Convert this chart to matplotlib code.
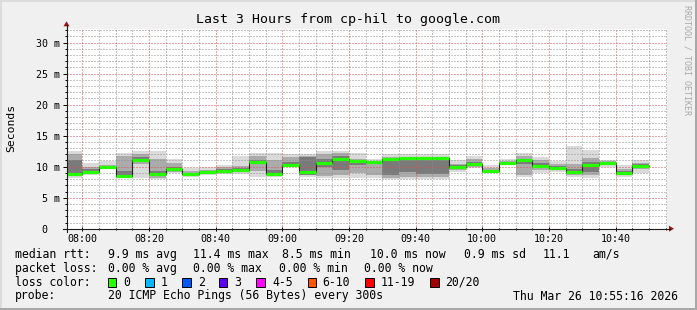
import numpy as np
import matplotlib
matplotlib.use("Agg")
import matplotlib.pyplot as plt
from matplotlib.patches import Rectangle, Polygon
from matplotlib.lines import Line2D

W, H = 697, 310

# ---------------- data ----------------
title = "Last 3 Hours from cp-hil to google.com"
# bin start times in minutes after midnight (07:55 ... 10:45), 5-minute steps
bin_start = [475, 480, 485, 490, 495, 500, 505, 510, 515, 520, 525, 530, 535, 540,
             545, 550, 555, 560, 565, 570, 575, 580, 585, 590, 595, 600, 605, 610,
             615, 620, 625, 630, 635, 640, 645]
bin_end = 650
view_start = 475 + 16 / 60   # 07:55:16
view_end = 655 + 16 / 60     # 10:55:16

median = [8.9, 9.1, 10.0, 8.5, 11.0, 8.8, 9.6, 8.9, 9.1, 9.35, 9.45, 10.7, 8.9, 10.35,
          9.2, 10.65, 11.3, 10.9, 10.7, 11.3, 11.45, 11.45, 11.35, 10.0, 10.5, 9.35,
          10.65, 11.0, 10.15, 9.85, 9.1, 10.35, 10.65, 9.05, 10.1]
outer_hi = [12.6, 10.6, 10.9, 12.2, 12.6, 12.6, 11.3, 9.8, 10.0, 10.2, 11.7, 12.2, 12.2, 12.0,
            12.0, 12.6, 12.6, 12.2, 11.3, 12.0, 12.0, 12.0, 12.0, 11.0, 11.8, 10.3, 11.2, 12.2,
            11.5, 10.9, 13.3, 12.7, 11.1, 10.3, 11.1]
outer_lo = [8.2, 8.6, 9.7, 8.3, 8.2, 8.0, 9.0, 8.4, 8.6, 8.8, 8.9, 8.4, 8.4, 10.0,
            8.4, 8.1, 8.1, 8.1, 8.1, 8.0, 8.0, 8.0, 8.0, 9.1, 9.8, 9.0, 10.2, 8.4,
            9.0, 9.2, 8.4, 8.2, 10.0, 8.4, 9.0]
mid_hi = [12.1, 10.0, 10.3, 11.7, 12.1, 11.3, 10.6, 9.3, 9.5, 9.9, 10.1, 11.7, 11.0, 11.5,
          11.8, 12.0, 12.2, 11.2, 10.9, 11.6, 11.6, 11.5, 11.6, 10.5, 11.2, 9.8, 10.9, 11.7,
          11.0, 10.4, 10.5, 11.4, 10.9, 9.7, 10.6]
mid_lo = [8.5, 8.8, 9.8, 8.5, 10.5, 8.2, 9.2, 8.6, 8.8, 9.0, 9.1, 9.3, 8.6, 10.2,
          8.6, 8.5, 8.6, 9.0, 8.6, 8.2, 8.3, 8.3, 8.3, 9.4, 10.0, 9.1, 10.4, 8.7,
          9.4, 9.5, 8.6, 8.7, 10.2, 8.6, 9.6]
core_hi = [11.1, 9.6, 10.1, 9.3, 11.6, 9.3, 10.0, 9.0, 9.3, 9.6, 9.8, 11.0, 9.5, 10.8,
           11.6, 11.3, 11.7, 11.0, 10.9, 11.1, 11.4, 11.4, 11.3, 10.2, 10.7, 9.5, 10.7, 11.3,
           10.6, 10.1, 9.6, 10.8, 10.7, 9.3, 10.4]
core_lo = [9.0, 8.9, 9.9, 8.6, 10.8, 8.6, 9.4, 8.7, 8.9, 9.2, 9.3, 10.4, 8.7, 10.3,
           8.7, 10.0, 9.5, 10.2, 10.4, 8.6, 9.2, 8.9, 8.8, 9.7, 10.3, 9.2, 10.5, 10.5,
           9.8, 9.7, 8.8, 9.2, 10.4, 8.8, 9.9]

x_major = [480, 500, 520, 540, 560, 580, 600, 620, 640]
x_labels = ["08:00", "08:20", "08:40", "09:00", "09:20", "09:40", "10:00", "10:20", "10:40"]
y_major = [0, 5, 10, 15, 20, 25, 30]
y_labels = ["0  ", "5 m", "10 m", "15 m", "20 m", "25 m", "30 m"]
y_top = 32.26

legend_rtt = [("9.9 ms avg", 107.6), ("11.4 ms max", 193.3), ("8.5 ms min", 282.5),
              ("10.0 ms now", 369.5), ("0.9 ms sd", 463.5), ("11.1", 543.0), ("am/s", 592.5)]
legend_loss = [("0.00 % avg", 107.6), ("0.00 % max", 193.3), ("0.00 % min", 279.1),
               ("0.00 % now", 364.4)]
loss_names = ["0", "1", "2", "3", "4-5", "6-10", "11-19", "20/20"]
loss_colors = ["#26ff00", "#00b8ff", "#0059ff", "#5e00ff", "#ff00ff", "#ff5500", "#ff0000", "#a10000"]
loss_box_x = [108, 145.3, 182.2, 219.1, 256.4, 307.6, 365.3, 430.2]
loss_text_x = [123.6, 160.9, 197.8, 234.7, 272.0, 322.7, 380.9, 445.3]
probe_text = "20 ICMP Echo Pings (56 Bytes) every 300s"
stamp_text = "Thu Mar 26 10:55:16 2026"

# ---------------- figure ----------------
MONO = "DejaVu Sans Mono"
plt.rcParams["font.family"] = MONO

fig = plt.figure(figsize=(W / 100, H / 100), dpi=100, facecolor="#f0f0f0")


def fx(x):
    return x / W


def fy(y):
    return 1 - y / H


AX_L, AX_R, AX_B, AX_T = 66.5, 666.5, 228.7, 228.7 - 6.2 * y_top
ax = fig.add_axes([fx(AX_L), fy(AX_B), (AX_R - AX_L) / W, (AX_B - AX_T) / H])
ax.set_facecolor("white")
ax.set_xlim(view_start, view_end)
ax.set_ylim(0, y_top)
for s in ax.spines.values():
    s.set_visible(False)

edges = np.array(bin_start + [bin_end], dtype=float)


def ext(v):
    return np.append(np.asarray(v, dtype=float), v[-1])


ax.fill_between(edges, ext(outer_lo), ext(outer_hi), step="post", color="#dadada", lw=0, zorder=1)
ax.fill_between(edges, ext(mid_lo), ext(mid_hi), step="post", color="#ababab", lw=0, zorder=1.1)
ax.fill_between(edges, ext(core_lo), ext(core_hi), step="post", color="#7a7a7a", lw=0, zorder=1.2)

# median: dark step connector + green segments
ax.step(edges, ext(median), where="post", color="#202020", lw=0.8, zorder=3)
ax.hlines(median, edges[:-1], edges[1:], color=loss_colors[0], lw=2.3, zorder=4)

# grid
ax.set_xticks(x_major)
ax.set_xticklabels(x_labels)
ax.set_xticks(np.arange(480, 656, 5), minor=True)
ax.set_yticks(y_major)
ax.set_yticklabels(y_labels)
ax.set_yticks(np.arange(0, 33, 1), minor=True)
ax.grid(which="minor", color=(0.56, 0.56, 0.56, 0.42), lw=0.72, ls=(0, (1, 2)))
ax.grid(which="major", color=(0.87, 0.31, 0.31, 0.5), lw=0.72, ls=(0, (1, 2)))
ax.set_axisbelow(False)

ax.tick_params(axis="y", which="major", direction="out", length=3.2, width=0.72,
               color="#000000", pad=1.6, labelsize=7.2)
ax.tick_params(axis="y", which="minor", direction="out", length=1.5, width=0.72, color="#000000")
ax.tick_params(axis="x", which="major", direction="inout", length=3.0, width=0.72,
               color="#000000", pad=2.4, labelsize=7.2)
ax.tick_params(axis="x", which="minor", direction="inout", length=1.6, width=0.72, color="#000000")

# axis lines with arrows (figure pixel coords)
axis_col = "#1c1c1c"
arrow_col = "#9a1414"
fig.add_artist(Line2D([fx(AX_L), fx(AX_L)], [fy(AX_B + 3), fy(25)], color=axis_col, lw=0.8))
fig.add_artist(Line2D([fx(AX_L - 4), fx(669.5)], [fy(AX_B), fy(AX_B)], color=axis_col, lw=0.8))
fig.add_artist(Polygon([[fx(AX_L - 3), fy(26.3)], [fx(AX_L + 3), fy(26.3)], [fx(AX_L), fy(21.3)]],
                       closed=True, color=arrow_col, lw=0))
fig.add_artist(Polygon([[fx(669.0), fy(AX_B - 3)], [fx(669.0), fy(AX_B + 3)], [fx(674.0), fy(AX_B)]],
                       closed=True, color=arrow_col, lw=0))

# borders (3D frame)
fig.add_artist(Rectangle((0, fy(2)), 1, 2 / H, color="#dcdcdc", lw=0))
fig.add_artist(Rectangle((0, 0), 2 / W, 1, color="#dcdcdc", lw=0))
fig.add_artist(Rectangle((0, 0), 1, 2.5 / H, color="#a8a8a8", lw=0))
fig.add_artist(Rectangle((fx(W - 2.5), 0), 2.5 / W, 1, color="#a8a8a8", lw=0))

# texts
fig.text(fx(348.5), fy(20), title, ha="center", va="center", fontsize=9.5, color="black")
fig.text(fx(11), fy(127.5), "Seconds", rotation=90, ha="center", va="center", fontsize=8.2)
fig.text(fx(687.5), fy(60), "RRDTOOL / TOBI OETIKER", rotation=270, ha="center", va="center",
         fontsize=6.0, color="#a8a8a8")

LFS = 8.3
rows = [254.3, 268.3, 282.3, 296.0]
fig.text(fx(15), fy(rows[0]), "median rtt:", ha="left", va="center", fontsize=LFS)
for t, x in legend_rtt:
    fig.text(fx(x), fy(rows[0]), t, ha="left", va="center", fontsize=LFS)
fig.text(fx(15), fy(rows[1]), "packet loss:", ha="left", va="center", fontsize=LFS)
for t, x in legend_loss:
    fig.text(fx(x), fy(rows[1]), t, ha="left", va="center", fontsize=LFS)
fig.text(fx(15), fy(rows[2]), "loss color:", ha="left", va="center", fontsize=LFS)
for name, col, bx, tx in zip(loss_names, loss_colors, loss_box_x, loss_text_x):
    fig.add_artist(Rectangle((fx(bx), fy(rows[2] + 4.2)), 8.4 / W, 8.4 / H,
                             facecolor=col, edgecolor="black", lw=0.7))
    fig.text(fx(tx), fy(rows[2]), name, ha="left", va="center", fontsize=LFS)
fig.text(fx(15), fy(rows[3]), "probe:", ha="left", va="center", fontsize=LFS)
fig.text(fx(108), fy(rows[3]), probe_text, ha="left", va="center", fontsize=LFS)
fig.text(fx(513.3), fy(rows[3]), stamp_text, ha="left", va="center", fontsize=LFS)

fig.savefig("out.png", dpi=100, facecolor=fig.get_facecolor())
